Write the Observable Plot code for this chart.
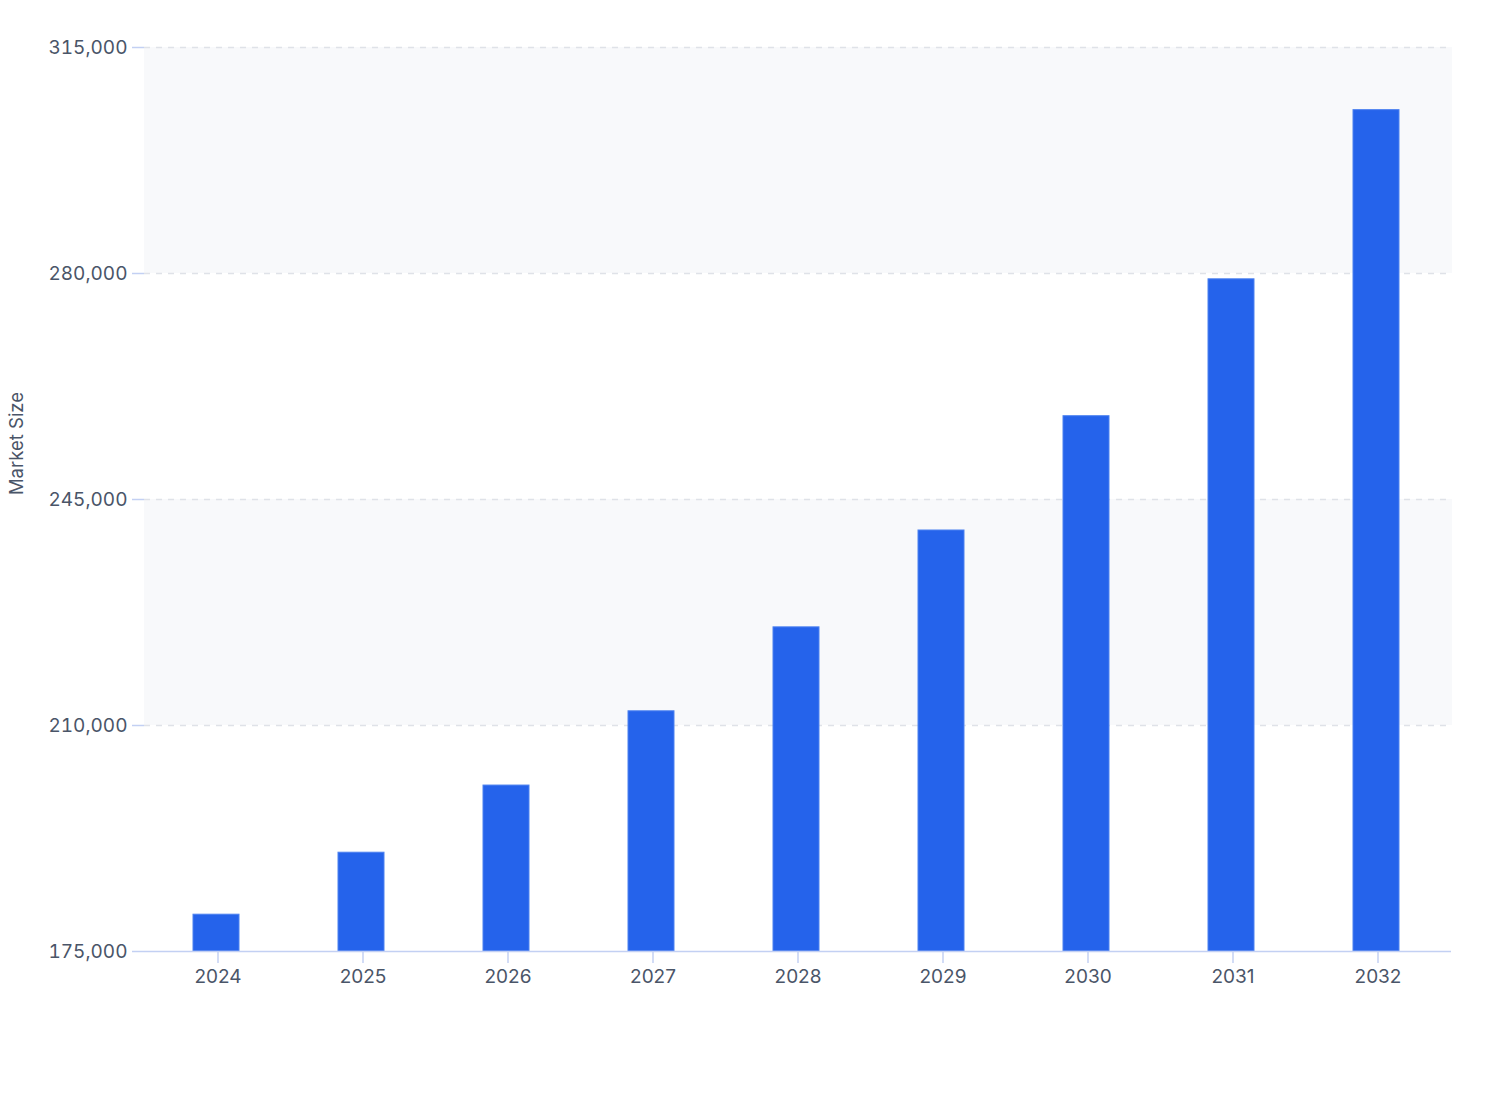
<!DOCTYPE html>
<html>
<head>
<meta charset="utf-8">
<script src="https://cdn.jsdelivr.net/npm/d3@7"></script>
<script src="https://cdn.jsdelivr.net/npm/@observablehq/plot@0.6"></script>
<style>
  html, body { margin: 0; padding: 0; background: #ffffff; }
  #chart svg { display: block; }
</style>
</head>
<body>
<div id="chart"></div>
<script>
const years = ["2024", "2025", "2026", "2027", "2028", "2029", "2030", "2031", "2032"];
const marketSize = [180700, 190300, 200700, 212200, 225200, 240200, 257900, 279100, 305300];
const yTicks = [175000, 210000, 245000, 280000, 315000];
const bandLo = [175000, 210000, 245000, 280000];
const bandHi = [210000, 245000, 280000, 315000];
const bandShaded = [false, true, false, true];

const data = years.map((year, i) => ({year, value: marketSize[i]}));
const bands = bandLo.map((lo, i) => ({lo, hi: bandHi[i], shaded: bandShaded[i]})).filter(d => d.shaded);

const textColor = "#4a5568";
const axisColor = "#c3d0f3";

const chart = Plot.plot({
  width: 1508,
  height: 1060,
  marginLeft: 144,
  marginRight: 57,
  marginTop: 47,
  marginBottom: 109,
  style: {fontFamily: "Inter, 'Noto Sans', sans-serif", fontSize: "19px", color: textColor, background: "#ffffff"},
  x: {type: "band", domain: years, padding: 0, label: null},
  y: {domain: [175000, 315000], label: null},
  marks: [
    Plot.rectY(bands, {y1: "lo", y2: "hi", fill: "#f8f9fb", insetRight: -1}),
    Plot.gridY(yTicks.filter(t => t !== 175000), {stroke: "#dfe2e8", strokeOpacity: 1, strokeDasharray: "6,6", strokeWidth: 1.5, insetRight: 4}),
    Plot.barY(data, {x: "year", y1: 175000, y2: "value", fill: "#2563eb", stroke: "#4d82f0", strokeWidth: 1, insetLeft: 48, insetRight: 51}),
    Plot.axisY(yTicks, {tickFormat: d3.format(","), tickSize: 12, tickPadding: 5, stroke: axisColor, strokeWidth: 1.5, color: textColor, fontSize: 19, label: null}),
    Plot.axisX({tickSize: 12, tickPadding: 6, stroke: axisColor, strokeWidth: 1.5, color: textColor, fontSize: 19, label: null}),
    Plot.ruleX([0], {frameAnchor: "left", stroke: axisColor, strokeWidth: 1.5}),
    Plot.ruleY([175000], {stroke: axisColor, strokeWidth: 1.5}),
    Plot.text(["Market Size"], {frameAnchor: "left", dx: -127, dy: -56, rotate: -90, fill: textColor, fontSize: 18.5, textAnchor: "middle"})
  ]
});

document.getElementById("chart").appendChild(chart);
</script>
</body>
</html>
